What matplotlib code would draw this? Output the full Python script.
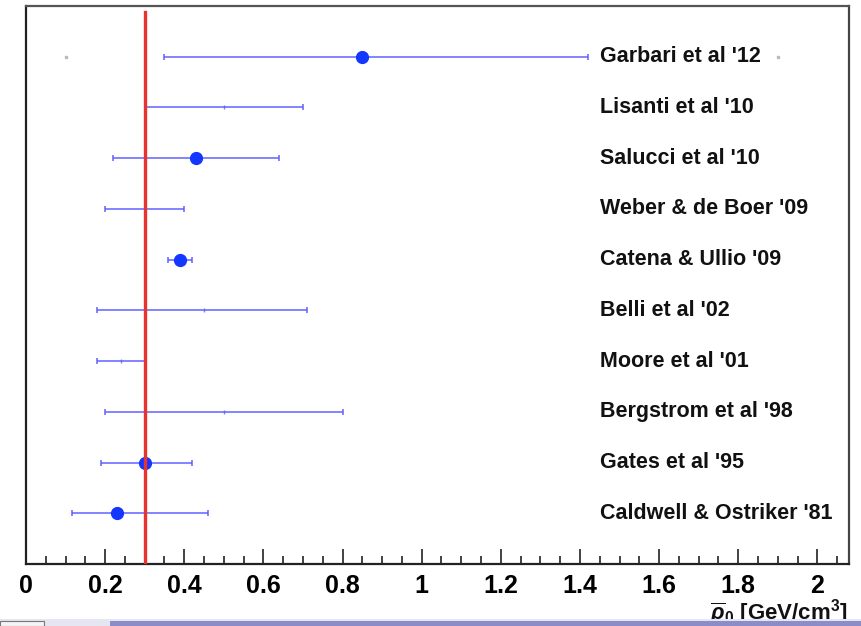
import matplotlib
matplotlib.use("Agg")
import matplotlib.pyplot as plt
from matplotlib.patches import Rectangle
from matplotlib.ticker import MultipleLocator

plt.rcParams['font.family'] = ['Liberation Sans', 'DejaVu Sans']
plt.rcParams['mathtext.fontset'] = 'custom'
plt.rcParams['mathtext.rm'] = 'Liberation Sans:bold'
plt.rcParams['mathtext.it'] = 'Liberation Sans:italic:bold'
plt.rcParams['mathtext.bf'] = 'Liberation Sans:bold'

# Data (top to bottom)
labels = ["Garbari et al '12", "Lisanti et al '10", "Salucci et al '10",
          "Weber & de Boer '09", "Catena & Ullio '09", "Belli et al '02",
          "Moore et al '01", "Bergstrom et al '98", "Gates et al '95",
          "Caldwell & Ostriker '81"]
centers = [0.85, 0.50, 0.43, 0.30, 0.39, 0.45, 0.24, 0.50, 0.30, 0.23]
lows    = [0.35, 0.30, 0.22, 0.20, 0.36, 0.18, 0.18, 0.20, 0.19, 0.115]
highs   = [1.42, 0.70, 0.64, 0.40, 0.42, 0.71, 0.30, 0.80, 0.42, 0.46]
has_point = [True, False, True, False, True, False, False, False, True, True]
extra_x = [0.10, 1.90]   # faint grey marks on the Garbari row
ref_value = 0.30
xticks = [0, 0.2, 0.4, 0.6, 0.8, 1, 1.2, 1.4, 1.6, 1.8, 2]
xticklabels = ["0", "0.2", "0.4", "0.6", "0.8", "1", "1.2", "1.4", "1.6", "1.8", "2"]

fig = plt.figure(figsize=(8.61, 6.26), dpi=100)
ax = fig.add_axes([26/861, 1-564/626, (849-26)/861, (564-6)/626])

n = len(labels)
ys = [n - i for i in range(n)]

for y, c, lo, hi, p in zip(ys, centers, lows, highs, has_point):
    ax.errorbar([c], [y], xerr=[[c - lo], [hi - c]], fmt='none',
                ecolor='#5a5aff', elinewidth=1.4, capsize=2.2, capthick=1.4,
                alpha=0.75, zorder=2)
    if p:
        ax.plot([c], [y], 'o', color='#1437ff', markersize=8.5, zorder=4)
    else:
        ax.plot([c], [y], '|', color='#5a5aff', markersize=3, alpha=0.8, zorder=3)

ax.plot(extra_x, [ys[0]] * len(extra_x), 's', color='#bbbbbb', markersize=2, zorder=2)

for y, lab in zip(ys, labels):
    ax.text(1.45, y, lab, fontsize=15.5, fontweight='bold', color='#111111',
            va='center', ha='left')

ax.plot([ref_value, ref_value], [0, 10.88], color='#e8322c', linewidth=2.4, zorder=5)

ax.set_xlim(0, 2.08)
ax.set_ylim(0, 11)
ax.set_xticks(xticks)
ax.set_xticklabels(xticklabels, fontsize=18, fontweight='bold')
ax.xaxis.set_minor_locator(MultipleLocator(0.05))
ax.tick_params(axis='x', which='major', direction='in', length=11, width=1.2,
               pad=7, color='#222222')
ax.tick_params(axis='x', which='minor', direction='in', length=5.5, width=1.2,
               color='#222222')
ax.tick_params(axis='y', left=False, labelleft=False)
for s in ax.spines.values():
    s.set_color('#222222')
    s.set_linewidth(1.6)
ax.spines['top'].set_color('#555555')
ax.spines['right'].set_color('#444444')

fig.text(848/861, 1-620/626, r'$\overline{\rho}_0$ [GeV/cm$^3$]', fontsize=16,
         fontweight='bold', ha='right', va='baseline', color='#111111')

# screenshot strip at the bottom
fig.add_artist(Rectangle((0.0, 0.0), 1.0, 7/626, transform=fig.transFigure,
                         facecolor='#e6e6f2', edgecolor='none', zorder=10))
fig.add_artist(Rectangle((110/861, 0.0), 1.0, 5/626, transform=fig.transFigure,
                         facecolor='#8c8cc8', edgecolor='none', zorder=11))
fig.add_artist(Rectangle((0.0, 0.0), 44/861, 5/626, transform=fig.transFigure,
                         facecolor='#f4f4f4', edgecolor='#777777', linewidth=0.8,
                         zorder=11))

fig.savefig('out.png', dpi=100)
